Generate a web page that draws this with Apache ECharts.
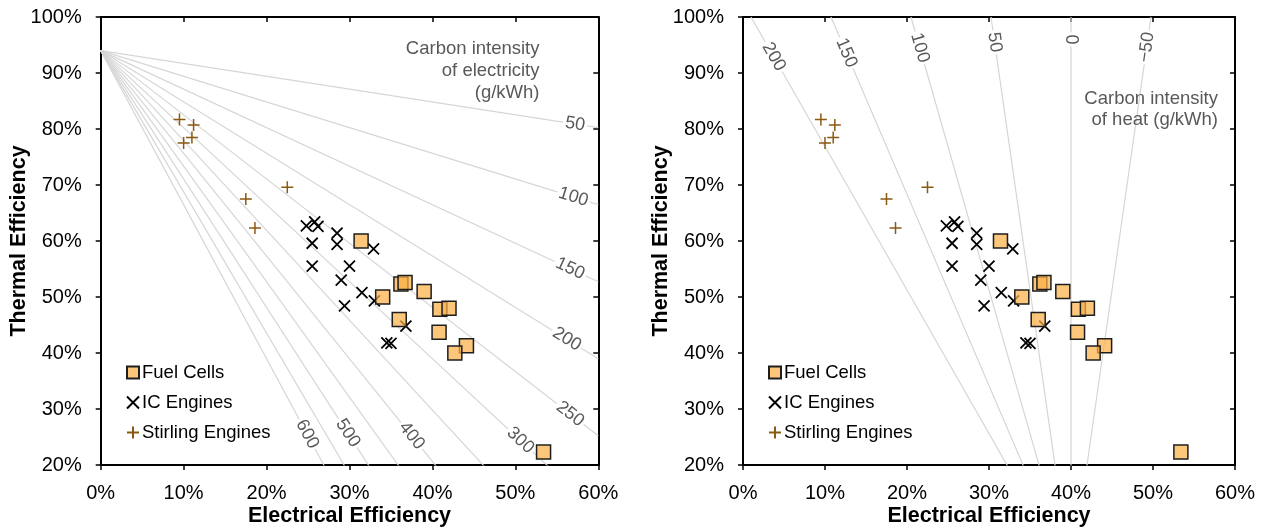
<!DOCTYPE html>
<html>
<head>
<meta charset="utf-8">
<script src="https://cdn.jsdelivr.net/npm/echarts@6.0.0/dist/echarts.min.js"></script>
<style>
  html, body { margin: 0; padding: 0; background: #fff; }
  #chart { width: 1266px; height: 528px; }
</style>
</head>
<body>
<div id="chart"></div>
<script>
// ---- Measured CHP units: electrical / thermal efficiency (%) ----
const fuelCellsElec  = [31.4, 34.0, 36.2, 36.7, 39.0, 40.9, 42.0, 36.0, 40.8, 44.1, 42.7, 53.4];
const fuelCellsTherm = [60.0, 50.0, 52.3, 52.6, 51.0, 47.8, 48.0, 46.0, 43.7, 41.3, 40.0, 22.3];

const icElec  = [24.8, 25.8, 26.2, 28.5, 28.5, 25.5, 25.5, 30.0, 29.0, 32.9, 31.5, 33.0, 29.4, 36.8, 34.5, 35.0];
const icTherm = [62.7, 63.4, 62.6, 61.4, 59.4, 59.6, 55.5, 55.5, 53.0, 58.6, 50.8, 49.3, 48.4, 44.8, 41.8, 41.7];

const stirlingElec  = [9.5, 11.2, 11.0, 10.0, 22.5, 17.5, 18.6];
const stirlingTherm = [81.7, 80.7, 78.5, 77.5, 69.6, 67.5, 62.3];

// ---- Isoline model ----
const GAS_CI = 205;        // g CO2 per kWh of fuel
const BOILER_EFF = 0.94;   // reference boiler efficiency (heat credit)
const GRID_CI = 512.5;     // g CO2 per kWh of displaced grid electricity

// Carbon intensity of electricity (g/kWh) drawn as isolines, and where each label sits (electrical eff. %)
const elecIntensities = [50, 100, 150, 200, 250, 300, 350, 400, 450, 500, 550, 600];
const elecLabelAt = [[50, 57.2], [100, 57.0], [150, 56.6], [200, 56.2], [250, 56.6], [300, 50.6], [400, 37.5], [500, 29.8], [600, 24.9]];

// Carbon intensity of heat (g/kWh) drawn as isolines, and where each label sits (thermal eff. %)
const heatIntensities = [200, 150, 100, 50, 0, -50];
const heatLabelAt = [[200, 92.9], [150, 93.6], [100, 94.5], [50, 95.5], [0, 96.0], [-50, 94.6]];

// Axis ticks
const xTicks = { min: 0, max: 60, step: 10 };
const yTicks = { min: 20, max: 100, step: 10 };

const seriesNames = ['Fuel Cells', 'IC Engines', 'Stirling Engines'];

const FONT = '"Liberation Sans", Arial, sans-serif';
const LINE_GREY = '#d6d6d6';
const TEXT_GREY = '#595959';

// thermal efficiency (%) on an electricity-intensity isoline at electrical efficiency el (%)
function elecLineTh(c, el) {
  return 100 * BOILER_EFF * (1 - c * (el / 100) / GAS_CI);
}
// electrical efficiency (%) on a heat-intensity isoline at thermal efficiency th (%)
function heatLineEl(h, th) {
  return 100 * (GAS_CI - h * (th / 100)) / GRID_CI;
}

function zip(a, b) { return a.map((v, i) => [v, b[i]]); }

const SYM_X = 'path://M0,0L10,10M10,0L0,10';
const SYM_PLUS = 'path://M5,0L5,10M0,5L10,5';

function axisPair(gridIndex, isX) {
  const t = isX ? xTicks : yTicks;
  const base = {
    type: 'value', gridIndex: gridIndex,
    min: t.min, max: t.max, interval: t.step,
    splitLine: { show: false },
    axisLine: { show: true, onZero: false, lineStyle: { color: '#000', width: 2 } }
  };
  const main = Object.assign({}, base, {
    position: isX ? 'bottom' : 'left',
    axisTick: { show: true, inside: false, length: 5, lineStyle: { color: '#000', width: 1.5 } },
    axisLabel: { formatter: '{value}%', color: '#000', fontSize: 20, fontFamily: FONT, margin: isX ? 18 : 19 },
    name: isX ? 'Electrical Efficiency' : 'Thermal Efficiency',
    nameLocation: 'middle',
    nameGap: isX ? 40 : 71,
    nameMoveOverlap: false,
    nameTextStyle: { color: '#000', fontSize: 21.5, fontWeight: 'bold', fontFamily: FONT }
  });
  const mirror = Object.assign({}, base, {
    position: isX ? 'top' : 'right',
    axisTick: { show: true, inside: true, length: 5, lineStyle: { color: '#000', width: 1.5 } },
    axisLabel: { show: false }
  });
  return [main, mirror];
}

const xAxes = [].concat(axisPair(0, true), axisPair(1, true));
const yAxes = [].concat(axisPair(0, false), axisPair(1, false));

const series = [];

// electricity isolines (left panel)
elecIntensities.forEach(c => {
  series.push({
    type: 'line', xAxisIndex: 0, yAxisIndex: 0, silent: true, symbol: 'none', clip: true, z: 1,
    lineStyle: { color: LINE_GREY, width: 1.2 },
    data: [[0, elecLineTh(c, 0)], [60, elecLineTh(c, 60)]]
  });
});
// heat isolines (right panel)
heatIntensities.forEach(h => {
  series.push({
    type: 'line', xAxisIndex: 2, yAxisIndex: 2, silent: true, symbol: 'none', clip: true, z: 1,
    lineStyle: { color: LINE_GREY, width: 1.2 },
    data: [[heatLineEl(h, 0), 0], [heatLineEl(h, 100), 100]]
  });
});

// isoline labels, rotated along their lines
const elecLabels = elecLabelAt.map(([c, el]) => ({
  text: String(c), at: [el, elecLineTh(c, el)],
  from: [0, elecLineTh(c, 0)], to: [60, elecLineTh(c, 60)]
}));
const heatLabels = heatLabelAt.map(([h, th]) => ({
  text: h < 0 ? '\u2212' + Math.abs(h) : String(h), at: [heatLineEl(h, th), th],
  from: [heatLineEl(h, 0), 0], to: [heatLineEl(h, 100), 100]
}));

function labelSeries(labels, xi, yi) {
  return {
    type: 'custom', xAxisIndex: xi, yAxisIndex: yi, silent: true, z: 3, clip: false,
    data: labels.map(l => l.at),
    renderItem: function (params, api) {
      const l = labels[params.dataIndex];
      const p = api.coord(l.at);
      const a = api.coord(l.from), b = api.coord(l.to);
      let dx = b[0] - a[0], dy = b[1] - a[1];
      if (dx < -1e-6 || (Math.abs(dx) <= 1e-6 && dy < 0)) { dx = -dx; dy = -dy; }
      const ang = Math.atan2(dy, dx);
      return {
        type: 'text', x: p[0], y: p[1], rotation: -ang,
        style: {
          text: l.text, fill: TEXT_GREY, font: '18px ' + FONT,
          align: 'center', verticalAlign: 'middle',
          backgroundColor: '#fff', padding: [0, 2]
        }
      };
    }
  };
}
series.push(labelSeries(elecLabels, 0, 0));
series.push(labelSeries(heatLabels, 2, 2));

// scatter points for both panels
[[0, 0], [2, 2]].forEach(([xi, yi]) => {
  series.push({
    name: seriesNames[0], type: 'scatter', xAxisIndex: xi, yAxisIndex: yi, z: 5,
    symbol: 'rect', symbolSize: 14,
    itemStyle: { color: 'rgba(251,176,72,0.72)', borderColor: '#1e1e1e', borderWidth: 1.5, opacity: 1 },
    emphasis: { disabled: true },
    data: zip(fuelCellsElec, fuelCellsTherm)
  });
  series.push({
    name: seriesNames[1], type: 'scatter', xAxisIndex: xi, yAxisIndex: yi, z: 4,
    symbol: SYM_X, symbolSize: 11,
    itemStyle: { color: '#000', borderColor: '#000', borderWidth: 1.8, opacity: 1 },
    emphasis: { disabled: true },
    data: zip(icElec, icTherm)
  });
  series.push({
    name: seriesNames[2], type: 'scatter', xAxisIndex: xi, yAxisIndex: yi, z: 4,
    symbol: SYM_PLUS, symbolSize: 12,
    itemStyle: { color: '#8b5a12', borderColor: '#8b5a12', borderWidth: 1.5, opacity: 1 },
    emphasis: { disabled: true },
    data: zip(stirlingElec, stirlingTherm)
  });
});

function legendAt(left) {
  return {
    orient: 'vertical', left: left, top: 358,
    itemWidth: 12, itemHeight: 12, itemGap: 11,
    selectedMode: false,
    textStyle: { color: '#000', fontSize: 18.5, fontFamily: FONT, padding: [0, 0, 0, -2] },
    data: seriesNames
  };
}

const chart = echarts.init(document.getElementById('chart'), null, { renderer: 'canvas' });
chart.setOption({
  animation: false,
  backgroundColor: '#fff',
  textStyle: { fontFamily: FONT },
  grid: [
    { left: 100.7, top: 17, width: 497.6, height: 448, containLabel: false, outerBoundsMode: 'none' },
    { left: 743, top: 17, width: 492, height: 448, containLabel: false, outerBoundsMode: 'none' }
  ],
  xAxis: xAxes,
  yAxis: yAxes,
  legend: [legendAt(121), legendAt(763)],
  graphic: [
    {
      type: 'text', x: 539.5, y: 38, z: 10,
      style: { text: 'Carbon intensity\nof electricity\n(g/kWh)', align: 'right', verticalAlign: 'top', fill: TEXT_GREY, font: '18.5px ' + FONT, lineHeight: 22 }
    },
    {
      type: 'text', x: 1218, y: 88, z: 10,
      style: { text: 'Carbon intensity\nof heat (g/kWh)', align: 'right', verticalAlign: 'top', fill: TEXT_GREY, font: '18.5px ' + FONT, lineHeight: 21 }
    }
  ],
  series: series
});
</script>
</body>
</html>
